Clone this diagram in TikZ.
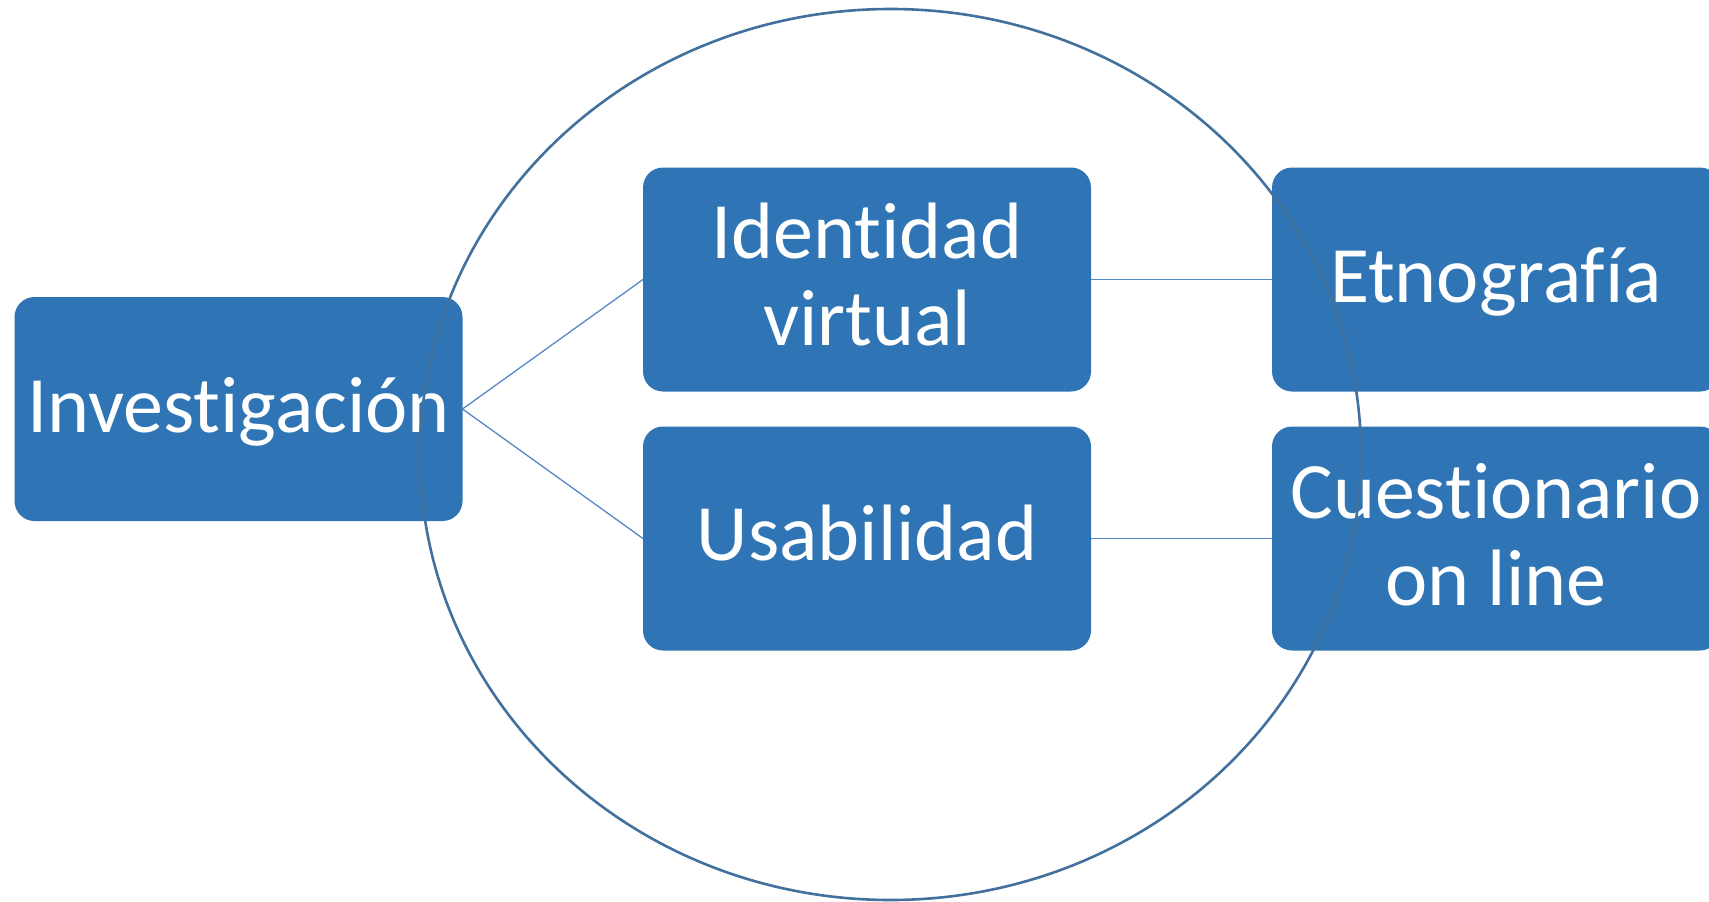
\documentclass[tikz,border=0pt]{standalone}
\usepackage{fontspec}
\setmainfont{Carlito}[Ligatures=NoCommon]
\usetikzlibrary{shapes.geometric}
\definecolor{boxblue}{RGB}{47,117,181}
\definecolor{ringblue}{RGB}{65,113,156}
\definecolor{linkblue}{RGB}{85,138,198}
\begin{document}
\begin{tikzpicture}[x=1pt,y=-1pt,
  box/.style={draw=none, fill=boxblue, rounded corners=20pt, minimum width=448pt, minimum height=224pt, inner sep=0pt, outer sep=0pt},
  lbl/.style={text=white, font=\fontsize{80}{87}\selectfont, align=center, inner sep=0pt, anchor=base},
  link/.style={draw=linkblue, line width=1.3pt},
  ring/.style={draw=ringblue, line width=2.6pt, ellipse, minimum width=941pt, minimum height=891pt, inner sep=0pt}]
\useasboundingbox (0,0) rectangle (1709,902);
\fill[white] (0,0) rectangle (1709,902);
\node[box] (inv) at (238.5,409) {};
\node[box] (idv) at (867,279.5) {};
\node[box] (usa) at (867,538.5) {};
\node[box] (etn) at (1496,279.5) {};
\node[box] (cue) at (1496,538.5) {};
\node[lbl] (invt) at (238.5,432) {Investigación};
\node[lbl] (idvt) at (867,345.5) {Identidad\\virtual};
\node[lbl] (usat) at (867,560) {Usabilidad};
\node[lbl] (etnt) at (1496,302.5) {Etnografía};
\node[lbl] (cuet) at (1496,605) {Cuestionario\\on line};
\draw[link] (inv.east) -- (idv.west);
\draw[link] (inv.east) -- (usa.west);
\draw[link] (idv.east) -- (etn.west);
\draw[link] (usa.east) -- (cue.west);
\node[ring] (ring) at (890.5,454.5) {};
\end{tikzpicture}
\end{document}
